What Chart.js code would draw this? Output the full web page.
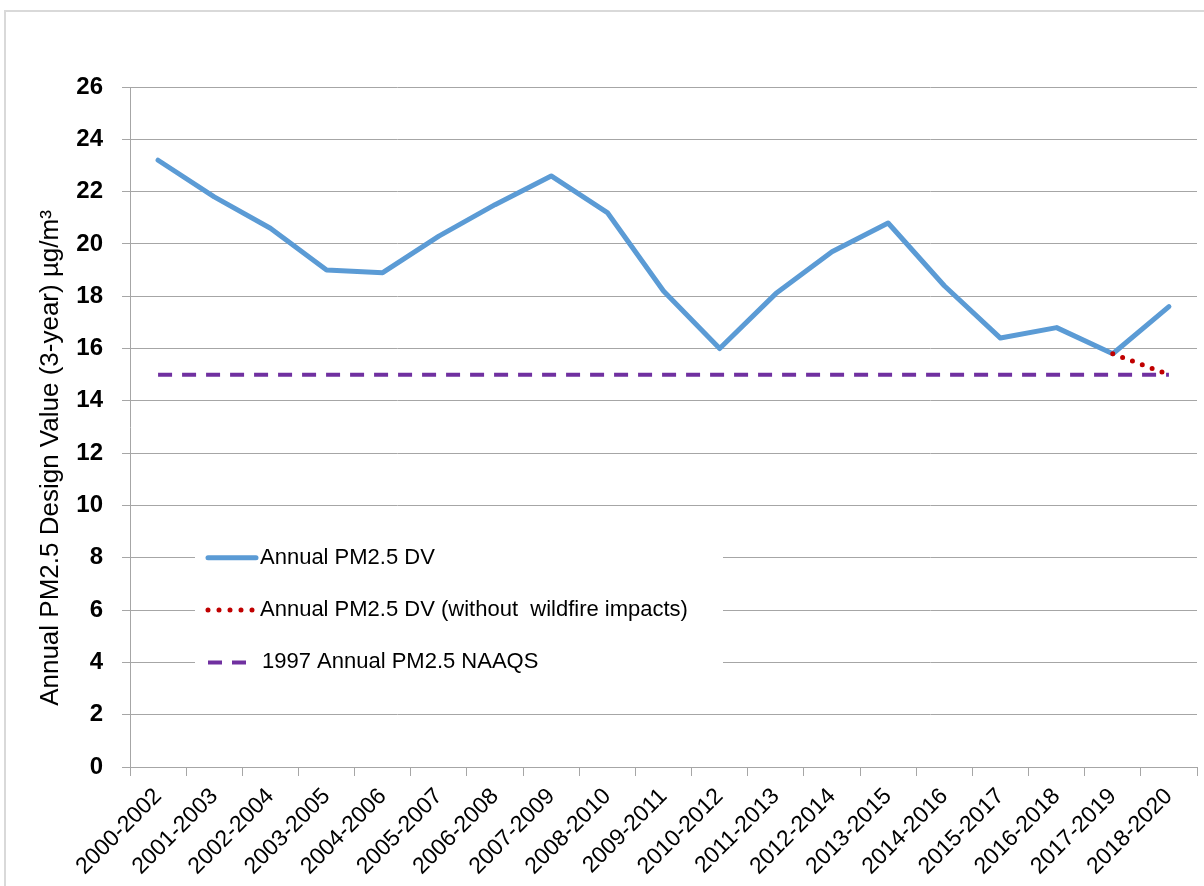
<!DOCTYPE html>
<html lang="en">
<head>
<meta charset="UTF-8">
<title>Annual PM2.5 Design Value</title>
<script src="https://cdn.jsdelivr.net/npm/chart.js@4.4.1/dist/chart.umd.min.js"></script>
<style>
  html, body { margin: 0; padding: 0; background: #fff; }
  #wrap { width: 1204px; height: 886px; position: relative; }
</style>
</head>
<body>
<div id="wrap"><canvas id="pmChart" width="1204" height="886"></canvas></div>
<script>
// data
const periods = ['2000-2002', '2001-2003', '2002-2004', '2003-2005', '2004-2006', '2005-2007',
  '2006-2008', '2007-2009', '2008-2010', '2009-2011', '2010-2012', '2011-2013', '2012-2014',
  '2013-2015', '2014-2016', '2015-2017', '2016-2018', '2017-2019', '2018-2020'];
const annualDV = [23.2, 21.8, 20.6, 19.0, 18.9, 20.3, 21.5, 22.6, 21.2, 18.2, 16.0, 18.1, 19.7,
  20.8, 18.4, 16.4, 16.8, 15.8, 17.6];
const noWildfireDV = [null, null, null, null, null, null, null, null, null, null, null, null,
  null, null, null, null, null, 15.8, 15.0];
const naaqs1997 = [15, 15, 15, 15, 15, 15, 15, 15, 15, 15, 15, 15, 15, 15, 15, 15, 15, 15, 15];

const seriesNames = ['Annual PM2.5 DV', 'Annual PM2.5 DV (without  wildfire impacts)', '1997 Annual PM2.5 NAAQS'];
const yTitle = 'Annual PM2.5 Design Value (3-year) µg/m³';
const legendRows = [8, 6, 4];

const gridGray = '#a6a6a6';
const fontName = '"Liberation Sans", Arial, sans-serif';

// white page + thin frame like the pasted excel chart
const framePlugin = {
  id: 'frame',
  beforeDraw(chart) {
    const c = chart.ctx;
    c.save();
    c.fillStyle = '#fff';
    c.fillRect(0, 0, chart.width, chart.height);
    c.strokeStyle = '#d9d9d9';
    c.lineWidth = 2;
    c.strokeRect(5, 11, chart.width + 20, chart.height + 20);
    c.restore();
  }
};

// y title drawn by hand, excel centres it a bit lower than the plot
const sideTitle = {
  id: 'sideTitle',
  afterDraw(chart) {
    const c = chart.ctx;
    c.save();
    c.translate(51, 458);
    c.rotate(-Math.PI / 2);
    c.fillStyle = '#000';
    c.font = '26px ' + fontName;
    c.textAlign = 'center';
    c.textBaseline = 'middle';
    c.fillText(yTitle, 0, 0);
    c.restore();
  }
};

// legend sits inside the plot, on top of the gridlines
const boxLegend = {
  id: 'boxLegend',
  afterDraw(chart) {
    const c = chart.ctx;
    const y = chart.scales.y;
    const top = y.getPixelForValue(8) - 22;
    const bottom = y.getPixelForValue(4) + 22;
    c.save();
    c.fillStyle = '#fff';
    c.fillRect(195, top, 528, bottom - top);
    const styles = [
      { color: '#5b9bd5', width: 5, dash: [], cap: 'round', x2: 256 },
      { color: '#c00000', width: 5, dash: [0, 11], cap: 'round', x2: 253 },
      { color: '#7030a0', width: 4, dash: [14, 10], cap: 'butt', x2: 246 }
    ];
    styles.forEach((s, i) => {
      const py = y.getPixelForValue(legendRows[i]);
      c.beginPath();
      c.strokeStyle = s.color;
      c.lineWidth = s.width;
      c.setLineDash(s.dash);
      c.lineCap = s.cap;
      c.moveTo(208, py);
      c.lineTo(s.x2, py);
      c.stroke();
      c.setLineDash([]);
      c.fillStyle = '#000';
      c.font = '22px ' + fontName;
      c.textBaseline = 'middle';
      c.textAlign = 'left';
      c.fillText(seriesNames[i], i == 2 ? 262 : 260, py);
    });
    c.restore();
  }
};

const ctx = document.getElementById('pmChart').getContext('2d');
new Chart(ctx, {
  type: 'line',
  data: {
    labels: periods,
    datasets: [
      {
        label: seriesNames[0],
        data: annualDV,
        borderColor: '#5b9bd5',
        borderWidth: 5,
        borderJoinStyle: 'round',
        borderCapStyle: 'round',
        pointRadius: 0,
        order: 2
      },
      {
        label: seriesNames[1],
        data: noWildfireDV,
        borderColor: '#c00000',
        borderWidth: 5,
        borderDash: [0, 10.5],
        borderCapStyle: 'round',
        pointRadius: 0,
        order: 1
      },
      {
        label: seriesNames[2],
        data: naaqs1997,
        borderColor: '#7030a0',
        borderWidth: 4,
        borderDash: [14, 10],
        pointRadius: 0,
        order: 3
      }
    ]
  },
  options: {
    responsive: false,
    animation: false,
    events: [],
    layout: { padding: { top: 87, right: 7, bottom: 0, left: 0 } },
    plugins: {
      legend: { display: false },
      tooltip: { enabled: false }
    },
    scales: {
      x: {
        type: 'category',
        offset: true,
        afterFit: (s) => { s.height = 119; },
        grid: { offset: true, drawOnChartArea: false, drawTicks: true, tickLength: 9, color: gridGray },
        border: { display: true, color: gridGray },
        ticks: {
          color: '#000',
          maxRotation: 45,
          minRotation: 45,
          autoSkip: false,
          padding: 7,
          font: { family: fontName, size: 23 }
        }
      },
      y: {
        min: 0,
        max: 26,
        afterFit: (s) => { s.width = 130; },
        grid: { color: gridGray, tickLength: 8 },
        border: { display: true, color: gridGray },
        ticks: {
          stepSize: 2,
          color: '#000',
          padding: 19,
          font: { family: fontName, size: 24, weight: 'bold' }
        }
      }
    }
  },
  plugins: [framePlugin, sideTitle, boxLegend]
});
</script>
</body>
</html>
